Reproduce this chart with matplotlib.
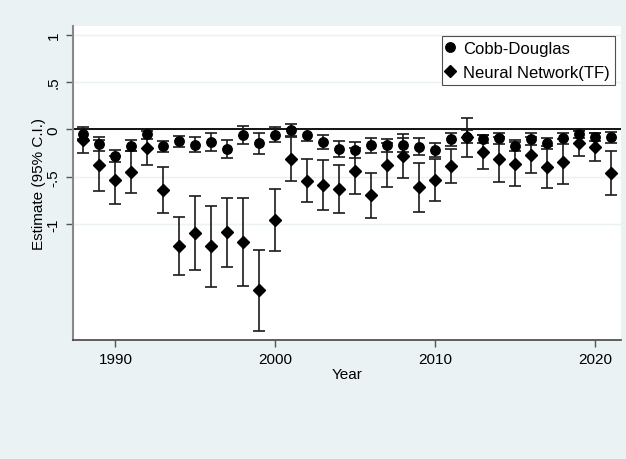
import numpy as np
import matplotlib
matplotlib.use("Agg")
import matplotlib.pyplot as plt
from matplotlib.lines import Line2D

plt.rcParams['font.family'] = ['Liberation Sans', 'DejaVu Sans']

years = list(range(1988, 2022))

cd_est = [-0.05, -0.155, -0.28, -0.17, -0.05, -0.18, -0.127, -0.16, -0.134, -0.21,
          -0.056, -0.148, -0.056, -0.004, -0.06, -0.134, -0.204, -0.218, -0.169, -0.169,
          -0.165, -0.183, -0.218, -0.106, -0.077, -0.10, -0.095, -0.17, -0.10, -0.148,
          -0.095, -0.05, -0.08, -0.085]
cd_hw = [0.05, 0.075, 0.067, 0.058, 0.05, 0.055, 0.055, 0.08, 0.098, 0.093,
         0.095, 0.11, 0.08, 0.065, 0.06, 0.07, 0.085, 0.08, 0.083, 0.07,
         0.07, 0.09, 0.075, 0.064, 0.07, 0.045, 0.06, 0.06, 0.06, 0.06,
         0.055, 0.045, 0.04, 0.055]

nn_est = [-0.11, -0.38, -0.535, -0.45, -0.20, -0.64, -1.23, -1.095, -1.236, -1.088,
          -1.187, -1.70, -0.958, -0.31, -0.54, -0.59, -0.634, -0.437, -0.697, -0.377,
          -0.278, -0.613, -0.532, -0.39, -0.085, -0.24, -0.317, -0.363, -0.275, -0.40,
          -0.34, -0.148, -0.19, -0.458]
nn_hw = [0.14, 0.27, 0.255, 0.22, 0.18, 0.245, 0.31, 0.39, 0.425, 0.366,
         0.466, 0.426, 0.326, 0.23, 0.225, 0.265, 0.254, 0.24, 0.236, 0.23,
         0.233, 0.254, 0.22, 0.18, 0.21, 0.177, 0.236, 0.23, 0.19, 0.22,
         0.235, 0.13, 0.148, 0.233]

y_ticks = [1, 0.5, 0, -0.5, -1]
y_labels = ["1", ".5", "0", "-.5", "-1"]
x_ticks = [1990, 2000, 2010, 2020]

bg = "#eaf2f3"
fig = plt.figure(figsize=(6.26, 4.60), dpi=100, facecolor=bg)
ax = fig.add_axes([73 / 626, 1 - 341 / 460, 548 / 626, 314 / 460])
ax.set_facecolor("white")

for t in y_ticks:
    ax.axhline(t, color=bg, lw=1.0, zorder=0)
ax.axhline(0, color="black", lw=1.3, zorder=1)

err_kw = dict(fmt="none", ecolor="#1a1a1a", elinewidth=1.2, capsize=4.5, capthick=1.2, zorder=2)
ax.errorbar(years, cd_est, yerr=cd_hw, **err_kw)
ax.errorbar(years, nn_est, yerr=nn_hw, **err_kw)
ax.plot(years, cd_est, "o", color="black", ms=6.8, zorder=3, ls="none")
ax.plot(years, nn_est, "D", color="black", ms=6.2, zorder=3, ls="none")

ax.set_xlim(1987.35, 2021.6)
ax.set_ylim(-2.224, 1.092)
ax.set_xticks(x_ticks)
ax.set_yticks(y_ticks)
ax.set_yticklabels(y_labels, rotation=90, va="center")
ax.tick_params(axis="both", labelsize=11, color="#555555", length=5, width=1)
ax.tick_params(axis="y", pad=4)

for side in ["top", "right"]:
    ax.spines[side].set_visible(False)
ax.spines["left"].set_color("#888888")
ax.spines["left"].set_linewidth(1.5)
ax.spines["bottom"].set_color("#444444")
ax.spines["bottom"].set_linewidth(1.2)

ax.set_xlabel("Year", fontsize=11, labelpad=1)
ax.set_ylabel("Estimate (95% C.I.)", fontsize=11, labelpad=0)

handles = [Line2D([], [], marker="o", color="black", ls="none", ms=6.8),
           Line2D([], [], marker="D", color="black", ls="none", ms=6.2)]
leg = ax.legend(handles, ["Cobb-Douglas", "Neural Network(TF)"], loc="upper right",
                bbox_to_anchor=(0.989, 0.968), fontsize=12, frameon=True, fancybox=False,
                edgecolor="#222222", borderpad=0.3, handletextpad=0.6, handlelength=0.4,
                labelspacing=0.55, borderaxespad=0)
leg.get_frame().set_linewidth(0.8)

fig.savefig("out.png", dpi=100, facecolor=bg)
